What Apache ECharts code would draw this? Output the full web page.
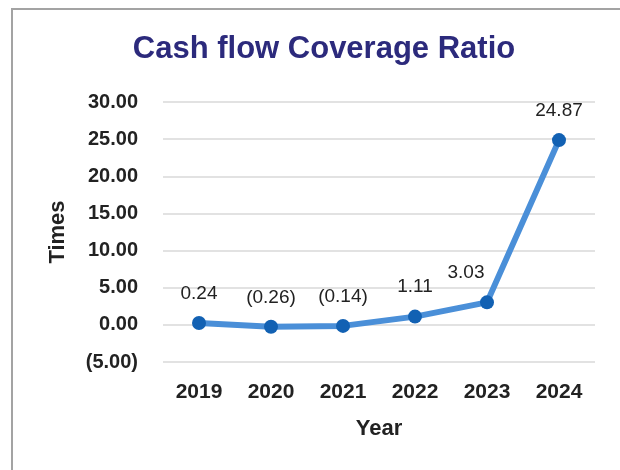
<!DOCTYPE html>
<html>
<head>
<meta charset="utf-8">
<title>Cash flow Coverage Ratio</title>
<script src="https://cdn.jsdelivr.net/npm/echarts@6/dist/echarts.min.js"></script>
<style>
  html, body { margin: 0; padding: 0; background: #ffffff; }
  #wrap { position: relative; width: 620px; height: 470px; }
  #chart { position: absolute; left: 0; top: 0; width: 620px; height: 470px; }
  #frame {
    position: absolute; left: 11px; top: 8px; right: 0; bottom: 0;
    border-top: 2px solid #a3a3a3; border-left: 2px solid #a3a3a3;
    pointer-events: none;
  }
</style>
</head>
<body>
<div id="wrap">
  <div id="chart"></div>
  <div id="frame"></div>
</div>
<script>
// Cash flow coverage ratio by year (times)
const years = ['2019', '2020', '2021', '2022', '2023', '2024'];
const ratios = [0.24, -0.26, -0.14, 1.11, 3.03, 24.87];
const yMin = -5;
const yMax = 30;
const yStep = 5;

// accounting style: negatives in parentheses
function fmt(v) {
  const s = Math.abs(v).toFixed(2);
  return v < 0 ? '(' + s + ')' : s;
}

const FONT = 'Liberation Sans, Arial, sans-serif';

const points = ratios.map(function (v, i) {
  const item = { value: v };
  if (years[i] === '2023') {
    item.label = { offset: [-21, 0] };
  }
  return item;
});

const chart = echarts.init(document.getElementById('chart'));
chart.setOption({
  animation: false,
  title: {
    text: 'Cash flow Coverage Ratio',
    left: 319,
    textAlign: 'center',
    top: 29,
    textStyle: {
      fontFamily: FONT,
      fontSize: 31,
      fontWeight: 'bold',
      color: '#2c2a7c'
    }
  },
  grid: { left: 163, right: 25, top: 102, bottom: 108, containLabel: false },
  xAxis: {
    type: 'category',
    data: years,
    boundaryGap: true,
    name: 'Year',
    nameLocation: 'middle',
    nameGap: 56,
    nameTextStyle: { fontFamily: FONT, fontSize: 22, fontWeight: 'bold', color: '#222' },
    axisLine: { show: false },
    axisTick: { show: false },
    axisLabel: { margin: 20, fontFamily: FONT, fontSize: 21, fontWeight: 'bold', color: '#222' }
  },
  yAxis: {
    type: 'value',
    min: yMin,
    max: yMax,
    interval: yStep,
    name: 'Times',
    nameLocation: 'middle',
    nameGap: 94,
    nameTextStyle: { fontFamily: FONT, fontSize: 22, fontWeight: 'bold', color: '#222' },
    axisLine: { show: false },
    axisTick: { show: false },
    axisLabel: {
      margin: 25,
      fontFamily: FONT,
      fontSize: 20,
      fontWeight: 'bold',
      color: '#222',
      formatter: fmt
    },
    splitLine: { lineStyle: { color: '#d9d9d9', width: 1.5 } }
  },
  series: [{
    type: 'line',
    data: points,
    symbol: 'circle',
    symbolSize: 14,
    lineStyle: { width: 6, color: '#4a8fd8' },
    itemStyle: { color: '#1261b3' },
    label: {
      show: true,
      position: 'top',
      distance: 13,
      fontFamily: FONT,
      fontSize: 19,
      color: '#222',
      formatter: function (p) { return fmt(p.value); }
    },
    z: 3
  }]
});
</script>
</body>
</html>
